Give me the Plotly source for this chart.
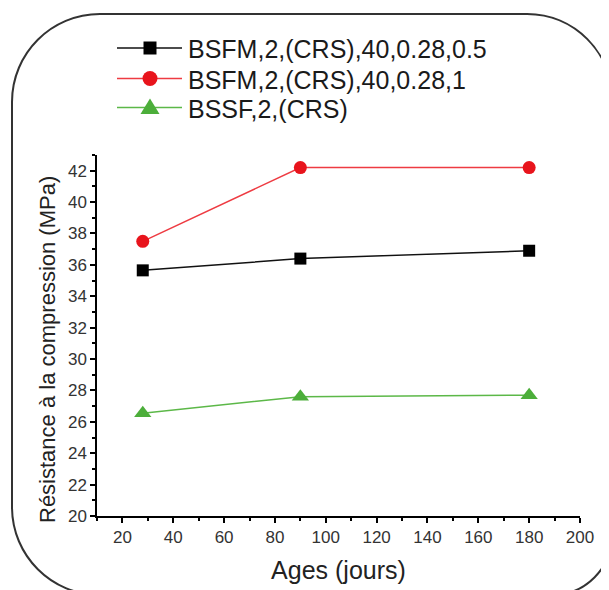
import plotly.graph_objects as go

ages = [28, 90, 180]
series_names = ["BSFM,2,(CRS),40,0.28,0.5", "BSFM,2,(CRS),40,0.28,1", "BSSF,2,(CRS)"]
bsfm_05 = [35.65, 36.4, 36.9]
bsfm_1 = [37.5, 42.2, 42.2]
bssf = [26.55, 27.6, 27.7]
x_ticks = [20, 40, 60, 80, 100, 120, 140, 160, 180, 200]
y_ticks = [20, 22, 24, 26, 28, 30, 32, 34, 36, 38, 40, 42]
x_title = "Ages (jours)"
y_title = "Résistance à la compression (MPa)"

OFF = 8  # page body margin
W, H = 601, 582
# plot area in screen pixels: x 97..580, y 155..516
L = 97 - OFF
T = 155 - OFF
R = W - (580 - OFF)
B = H - (516 - OFF)
PW, PH = W - L - R, H - T - B

FONT = "Arial, Liberation Sans, sans-serif"

def px(x, y):
    # screen pixel -> paper coords
    x -= OFF
    y -= OFF
    return (x - L) / PW, (H - B - y) / PH

def P(x, y):
    a, b = px(x, y)
    return f"{a:.5f},{b:.5f}"

def rounded_path(x0, y0, x1, y1, rtl, rtr, rbr, rbl):
    k = 0.5523
    d = f"M{P(x0 + rtl, y0)} L{P(x1 - rtr, y0)} "
    d += f"C{P(x1 - rtr + k * rtr, y0)} {P(x1, y0 + rtr - k * rtr)} {P(x1, y0 + rtr)} "
    d += f"L{P(x1, y1 - rbr)} "
    d += f"C{P(x1, y1 - rbr + k * rbr)} {P(x1 - rbr + k * rbr, y1)} {P(x1 - rbr, y1)} "
    d += f"L{P(x0 + rbl, y1)} "
    d += f"C{P(x0 + rbl - k * rbl, y1)} {P(x0, y1 - rbl + k * rbl)} {P(x0, y1 - rbl)} "
    d += f"L{P(x0, y0 + rtl)} "
    d += f"C{P(x0, y0 + rtl - k * rtl)} {P(x0 + rtl - k * rtl, y0)} {P(x0 + rtl, y0)} Z"
    return d

styles = [
    dict(line="#111111", marker="#000000", symbol="square", size=12),
    dict(line="#ee3b42", marker="#e8141c", symbol="circle", size=13),
    dict(line="#5cb848", marker="#4cae3a", symbol="triangle-up", size=15),
]
values = [bsfm_05, bsfm_1, bssf]

fig = go.Figure()
for name, vals, st in zip(series_names, values, styles):
    fig.add_trace(go.Scatter(x=ages, y=vals, name=name, mode="lines+markers",
                             line=dict(color=st["line"], width=1.5),
                             marker=dict(symbol=st["symbol"], size=st["size"], color=st["marker"])))

# outer rounded frame
fig.add_shape(type="path", xref="paper", yref="paper",
              path=rounded_path(12, 14, 612, 595, 88, 85, 60, 88),
              line=dict(color="#333333", width=2))

# legend (drawn manually to match the spacing of the original)
leg_rows = [48, 78.5, 107.5]
lx0, lx1, lmx, ltx = 117, 182, 150, 186
for name, st, yy in zip(series_names, styles, leg_rows):
    a0, b0 = px(lx0, yy)
    a1, _ = px(lx1, yy)
    fig.add_shape(type="line", xref="paper", yref="paper", x0=a0, y0=b0, x1=a1, y1=b0,
                  line=dict(color=st["line"], width=1.5))
    if st["symbol"] == "square":
        h = 6.5
        xa, ya = px(lmx - h, yy + h)
        xb, yb = px(lmx + h, yy - h)
        fig.add_shape(type="rect", xref="paper", yref="paper", x0=xa, y0=ya, x1=xb, y1=yb,
                      fillcolor=st["marker"], line=dict(width=0))
    elif st["symbol"] == "circle":
        h = 7.5
        xa, ya = px(lmx - h, yy + h)
        xb, yb = px(lmx + h, yy - h)
        fig.add_shape(type="circle", xref="paper", yref="paper", x0=xa, y0=ya, x1=xb, y1=yb,
                      fillcolor=st["marker"], line=dict(width=0))
    else:
        path = f"M{P(lmx - 9.5, yy + 6.5)} L{P(lmx + 9.5, yy + 6.5)} L{P(lmx, yy - 9)} Z"
        fig.add_shape(type="path", xref="paper", yref="paper", path=path,
                      fillcolor=st["marker"], line=dict(width=0))
    tx, ty = px(ltx, yy + 1)
    fig.add_annotation(xref="paper", yref="paper", x=tx, y=ty, xanchor="left", yanchor="middle",
                       text=name, showarrow=False,
                       font=dict(size=25, color="#1a1a1a", family=FONT))

# y-axis title (placed as in the original, slightly below the axis centre)
yx, yy_ = px(47, 350)
fig.add_annotation(xref="paper", yref="paper", x=yx, y=yy_, xanchor="center", yanchor="middle",
                   text=y_title, textangle=-90, showarrow=False,
                   font=dict(size=22, color="#222222", family=FONT))

fig.update_layout(
    width=W, height=H,
    margin=dict(l=L, r=R, t=T, b=B, autoexpand=False),
    paper_bgcolor="white", plot_bgcolor="white",
    font=dict(family=FONT, color="#222222"),
    showlegend=False,
    xaxis=dict(range=[10, 200], tickvals=x_ticks, ticktext=[str(v) for v in x_ticks],
               showgrid=False, zeroline=False, showline=True, linecolor="#000000", linewidth=1.5,
               ticks="outside", ticklen=5, tickwidth=1.5, tickcolor="#000000",
               tickfont=dict(size=17, color="#333333", family=FONT),
               minor=dict(dtick=10, tick0=0, ticks="outside", ticklen=3, tickwidth=1.5, tickcolor="#000000"),
               title=dict(text=x_title, font=dict(size=25, color="#222222", family=FONT), standoff=15)),
    yaxis=dict(range=[20, 43], tickvals=y_ticks, ticktext=[str(v) for v in y_ticks],
               showgrid=False, zeroline=False, showline=True, linecolor="#000000", linewidth=1.5,
               ticks="outside", ticklen=5, tickwidth=1.5, tickcolor="#000000",
               tickfont=dict(size=17, color="#333333", family=FONT),
               minor=dict(dtick=1, tick0=0, ticks="outside", ticklen=3, tickwidth=1.5, tickcolor="#000000")),
)
fig.update_xaxes(automargin=False)
fig.update_yaxes(automargin=False)

fig.write_html("out.html")
